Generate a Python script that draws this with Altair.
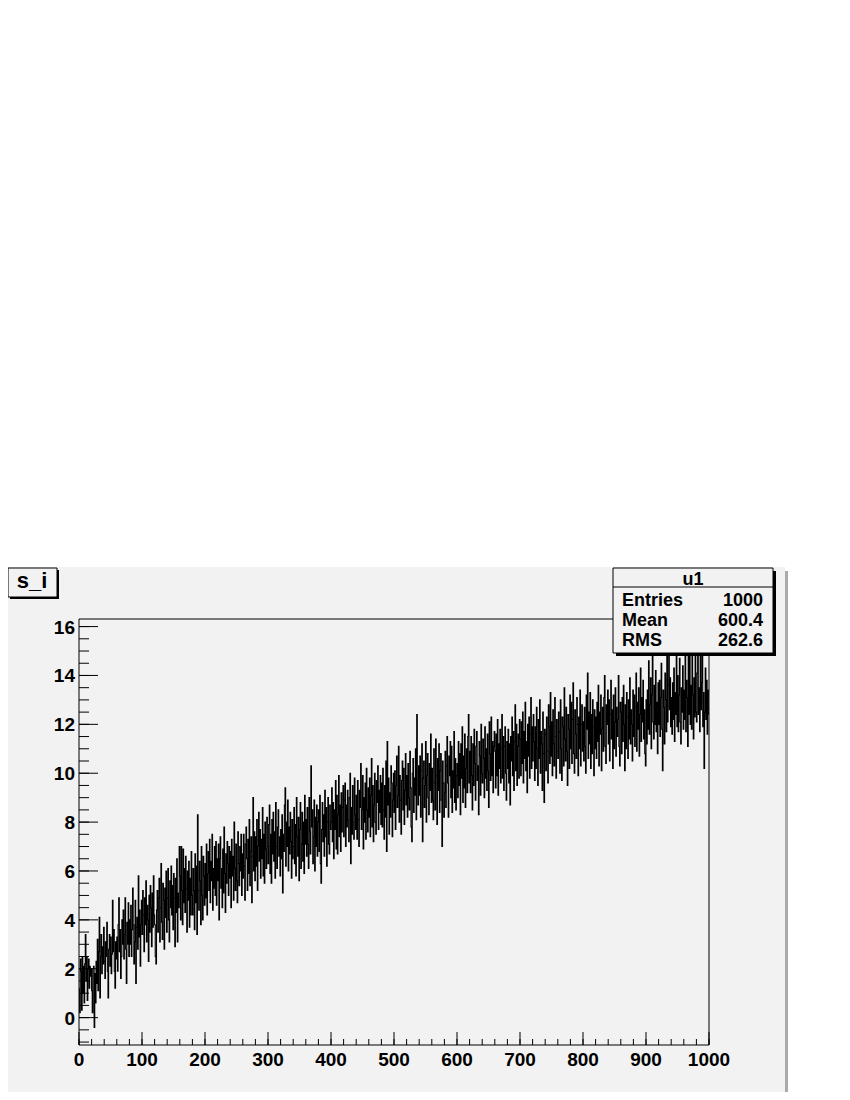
import altair as alt
import pandas as pd

# ---- data: bin contents of histogram "u1" (1000 bins, 0..1000) ----
s_i = [
    1.2, 0.2, 2.4, 1.9, 0.3, 2.5, 1.0, 2.1, 0.6, 2.2, 3.4, 1.5, 2.5, 0.7, 2.0, 2.4, 1.2, 2.1, 1.7, 2.0,
    1.1, 0.2, 2.0, 2.1, -0.4, 1.8, 0.6, 2.3, 1.4, 3.2, 1.1, 2.7, 4.1, 0.8, 2.5, 3.4, 1.8, 2.9, 2.2, 3.7,
    2.3, 1.6, 3.1, 2.5, 3.9, 1.9, 0.8, 2.8, 3.4, 2.1, 3.3, 1.8, 2.6, 4.8, 2.7, 3.6, 1.9, 1.2, 3.1, 2.4,
    3.3, 1.9, 3.8, 4.9, 2.7, 3.6, 1.6, 2.5, 4.0, 3.0, 4.4, 2.4, 3.4, 4.9, 2.8, 1.4, 3.9, 3.0, 4.7, 2.5,
    4.0, 3.0, 4.6, 2.5, 3.6, 5.3, 3.8, 2.2, 3.1, 4.8, 1.4, 3.7, 4.1, 2.8, 5.8, 3.3, 4.4, 2.1, 3.8, 4.8,
    3.4, 5.2, 4.2, 2.7, 4.9, 3.8, 5.6, 3.1, 4.6, 4.0, 2.3, 5.0, 3.5, 5.4, 4.5, 2.9, 5.1, 3.7, 5.8, 4.2,
    3.8, 2.5, 2.2, 4.4, 5.2, 3.5, 4.9, 5.7, 3.1, 4.5, 6.3, 3.9, 3.2, 5.5, 4.8, 2.8, 5.3, 4.1, 6.0, 3.5,
    4.9, 6.1, 4.0, 3.1, 5.6, 4.5, 6.2, 4.2, 5.4, 3.6, 5.9, 4.9, 2.9, 5.7, 4.3, 6.5, 3.1, 5.1, 4.5, 7.0,
    5.8, 4.0, 7.0, 5.2, 3.8, 6.9, 4.7, 6.1, 4.3, 6.6, 5.3, 3.5, 6.0, 4.8, 6.4, 3.7, 5.7, 4.2, 6.8, 5.0,
    4.2, 6.1, 5.2, 3.6, 6.7, 4.7, 6.2, 3.4, 8.3, 5.2, 4.4, 6.4, 5.6, 3.8, 7.0, 5.0, 4.0, 6.6, 5.8, 4.6,
    6.3, 4.9, 7.1, 4.2, 5.9, 6.8, 5.2, 7.3, 4.7, 6.4, 5.6, 7.5, 4.4, 6.1, 5.3, 7.0, 5.0, 7.2, 4.6, 6.5,
    5.6, 7.1, 4.0, 6.5, 7.4, 5.3, 6.1, 4.5, 6.9, 5.1, 7.8, 5.9, 4.3, 6.7, 5.5, 7.2, 6.3, 5.0, 7.0, 5.7,
    6.8, 4.5, 7.3, 5.8, 6.6, 4.8, 8.0, 6.1, 5.2, 7.1, 5.6, 4.7, 7.6, 6.3, 5.4, 7.0, 6.0, 7.5, 5.0, 6.7,
    5.7, 7.5, 6.2, 4.8, 7.1, 7.8, 6.5, 5.2, 7.3, 5.9, 8.1, 5.4, 6.8, 7.4, 4.7, 6.6, 9.0, 6.0, 7.6, 5.6,
    7.4, 6.2, 8.1, 5.2, 7.0, 8.4, 6.4, 7.7, 5.7, 7.3, 6.5, 8.6, 5.8, 7.5, 5.5, 8.0, 6.9, 6.1, 8.2, 7.0,
    6.3, 7.9, 8.7, 5.9, 7.5, 5.5, 8.1, 6.7, 8.4, 6.4, 7.6, 5.7, 8.8, 7.0, 6.1, 7.8, 8.5, 6.6, 7.4, 5.8,
    7.7, 6.5, 8.3, 5.1, 7.5, 6.8, 8.7, 9.4, 6.2, 8.0, 7.0, 8.9, 6.0, 7.8, 6.7, 8.4, 7.2, 5.7, 8.1, 6.5,
    7.0, 8.6, 6.3, 7.9, 5.8, 9.0, 7.4, 6.6, 8.2, 5.6, 7.7, 8.8, 6.1, 7.1, 8.4, 6.4, 8.0, 5.9, 9.1, 7.1,
    8.1, 6.6, 8.6, 7.1, 6.1, 9.0, 7.6, 6.7, 10.3, 7.8, 8.5, 6.3, 7.4, 8.9, 6.0, 8.2, 7.0, 8.7, 6.6, 8.0,
    8.5, 6.8, 9.1, 6.3, 5.5, 7.7, 8.8, 7.2, 8.3, 6.6, 9.3, 7.4, 8.6, 6.2, 8.0, 9.0, 7.1, 6.7, 8.7, 7.7,
    8.0, 9.4, 7.2, 8.8, 6.5, 8.5, 7.7, 9.7, 6.9, 9.1, 6.7, 8.3, 9.9, 7.4, 8.7, 6.8, 9.2, 7.6, 8.6, 9.5,
    7.4, 8.9, 9.6, 7.0, 8.7, 7.8, 9.3, 8.1, 7.2, 9.0, 10.0, 6.3, 8.6, 7.5, 9.5, 8.0, 7.3, 9.8, 8.3, 7.7,
    9.1, 7.3, 9.7, 8.1, 7.0, 9.3, 8.6, 10.4, 7.7, 8.5, 9.9, 6.9, 9.0, 8.0, 9.6, 7.3, 10.2, 8.5, 7.6, 9.4,
    8.2, 9.8, 7.4, 9.1, 10.6, 7.8, 9.5, 7.2, 8.7, 10.0, 8.0, 7.5, 9.7, 8.8, 10.3, 7.7, 9.3, 8.4, 9.9, 7.9,
    9.6, 7.8, 10.2, 8.5, 7.3, 9.5, 8.2, 10.5, 6.8, 11.3, 8.7, 9.8, 7.5, 9.2, 8.2, 10.3, 9.6, 7.4, 8.9, 10.0,
    8.4, 10.1, 7.7, 9.5, 10.7, 8.6, 9.1, 11.1, 8.0, 9.9, 8.9, 7.5, 9.7, 10.5, 8.5, 10.2, 7.9, 9.3, 10.8, 8.7,
    9.9, 8.2, 10.4, 9.0, 8.5, 10.9, 9.4, 7.8, 7.2, 10.0, 10.6, 8.4, 9.8, 9.1, 11.0, 8.1, 12.4, 9.5, 8.7, 10.3,
    9.1, 10.7, 8.2, 10.1, 11.2, 7.2, 9.8, 10.5, 8.6, 9.5, 11.3, 8.0, 9.9, 10.8, 9.0, 8.3, 10.4, 9.3, 11.6, 8.8,
    10.2, 8.9, 8.1, 11.0, 9.6, 8.5, 11.4, 9.9, 7.9, 10.6, 9.3, 11.2, 8.4, 10.1, 10.8, 8.9, 7.0, 10.5, 9.6, 8.2,
    9.2, 10.9, 8.6, 10.3, 11.5, 9.6, 8.2, 10.7, 9.9, 11.3, 9.0, 11.1, 8.4, 10.1, 9.4, 11.7, 8.8, 10.6, 8.5, 9.9,
    10.4, 9.0, 11.3, 9.5, 10.8, 8.3, 11.2, 9.8, 11.9, 8.8, 10.7, 9.4, 11.6, 8.6, 10.2, 11.0, 9.2, 11.5, 12.4, 9.6,
    10.9, 9.2, 11.5, 9.9, 8.5, 11.2, 9.5, 11.8, 10.4, 8.9, 11.1, 11.7, 9.7, 10.3, 8.3, 11.3, 10.7, 9.1, 12.0, 10.0,
    9.6, 11.4, 10.6, 9.0, 11.9, 9.8, 11.0, 9.3, 11.6, 10.1, 8.6, 12.1, 10.8, 9.7, 12.3, 9.9, 11.3, 9.2, 11.1, 11.7,
    10.9, 9.4, 11.6, 9.9, 12.2, 9.1, 11.2, 10.2, 11.8, 9.6, 11.0, 12.4, 9.8, 11.5, 9.3, 11.1, 11.9, 10.0, 8.9, 11.3,
    10.2, 11.8, 9.6, 11.2, 8.7, 11.5, 10.5, 12.3, 9.9, 11.7, 9.3, 11.3, 12.8, 10.1, 12.0, 9.5, 11.1, 11.6, 9.8, 12.2,
    11.4, 9.9, 12.1, 10.4, 12.5, 9.6, 11.7, 10.6, 12.9, 10.1, 11.3, 9.2, 12.0, 10.7, 12.3, 9.8, 11.6, 13.1, 10.2, 11.9,
    10.5, 12.4, 11.3, 9.7, 11.9, 10.2, 12.7, 11.0, 9.5, 12.2, 10.6, 13.0, 10.0, 11.7, 11.2, 9.3, 12.5, 10.8, 8.8, 11.8,
    11.6, 10.1, 12.3, 10.9, 9.6, 12.8, 11.9, 10.4, 13.3, 10.7, 12.1, 9.9, 12.6, 11.2, 10.3, 13.1, 11.5, 9.8, 12.2, 10.9,
    10.6, 12.5, 11.7, 10.0, 13.0, 11.0, 9.7, 12.3, 11.9, 10.3, 13.5, 11.4, 10.5, 12.7, 10.9, 9.5, 12.4, 11.8, 10.2, 13.2,
    11.0, 12.9, 10.4, 12.2, 13.7, 10.8, 10.0, 12.6, 11.6, 10.6, 13.1, 12.0, 9.9, 12.3, 11.0, 13.4, 10.3, 12.0, 12.8, 10.9,
    12.1, 10.5, 12.7, 11.1, 10.0, 13.2, 11.8, 14.1, 10.6, 12.5, 11.2, 13.3, 10.2, 12.4, 10.8, 13.0, 11.9, 9.9, 12.6, 11.0,
    12.3, 10.6, 12.9, 11.3, 13.6, 10.3, 12.5, 11.6, 13.2, 10.1, 11.8, 12.7, 10.9, 13.1, 14.0, 11.1, 10.4, 12.8, 12.0, 13.4,
    11.2, 13.0, 10.5, 12.4, 13.8, 11.4, 12.6, 10.2, 13.2, 11.0, 12.1, 13.5, 10.7, 12.7, 11.5, 12.2, 14.0, 11.1, 10.3, 12.9,
    12.5, 10.8, 13.1, 11.3, 13.6, 12.0, 10.1, 12.8, 11.0, 13.3, 12.3, 10.6, 13.0, 11.4, 13.9, 11.2, 12.6, 12.0, 10.5, 13.4,
    11.5, 13.2, 11.1, 12.7, 14.1, 10.9, 12.9, 11.8, 13.5, 10.7, 12.4, 14.3, 11.3, 13.1, 12.1, 13.8, 11.4, 12.6, 10.8, 10.3,
    13.0, 11.2, 13.4, 11.8, 14.6, 11.6, 12.8, 13.9, 11.0, 13.2, 15.4, 12.1, 11.4, 13.6, 12.0, 14.2, 11.7, 12.9, 10.8, 13.7,
    12.0, 13.8, 11.5, 13.1, 14.5, 11.8, 10.1, 13.4, 12.7, 11.2, 14.1, 13.0, 11.7, 14.9, 12.1, 13.6, 15.0, 12.6, 13.9, 11.9,
    13.1, 11.6, 13.7, 12.2, 14.3, 11.3, 13.3, 12.4, 15.6, 11.9, 14.0, 11.7, 13.2, 14.7, 12.1, 11.2, 13.5, 12.5, 14.4, 11.8,
    13.4, 12.2, 15.2, 11.7, 13.8, 13.1, 11.1, 15.3, 12.4, 14.8, 12.0, 13.6, 11.8, 15.8, 13.2, 11.4, 13.9, 12.3, 15.1, 12.5,
    12.1, 14.1, 15.5, 12.4, 13.5, 11.7, 15.6, 12.6, 13.7, 15.9, 11.9, 13.3, 10.2, 12.5, 14.3, 12.2, 13.8, 11.6, 13.4, 12.4,
]

x_label_values = [0, 100, 200, 300, 400, 500, 600, 700, 800, 900, 1000]
y_label_values = [0, 2, 4, 6, 8, 10, 12, 14, 16]
x_major_ticks = list(range(0, 1001, 100))
x_minor_ticks = list(range(0, 1001, 20))
y_major_ticks = [0, 2, 4, 6, 8, 10, 12, 14, 16]
y_minor_ticks = [v / 2 for v in range(-2, 33)]

title_text = "s_i"
hist_name = "u1"
stats_labels = ["Entries", "Mean", "RMS"]
stats_values = ["1000", "600.4", "262.6"]

# ---- layout ----
W, H = 630, 426
X_DOMAIN = [0, 1000]
Y_DOMAIN = [-1.12, 16.31]
FONT = "Liberation Sans"
PANEL = "#f2f2f2"

xs = alt.Scale(domain=X_DOMAIN, nice=False, zero=False)
ys = alt.Scale(domain=Y_DOMAIN, nice=False, zero=False)
one = alt.Data(values=[{}])

df = pd.DataFrame({"x": [i + 0.5 for i in range(len(s_i))], "s": s_i})


def box(x, x2, y, y2, **kw):
    return alt.Chart(one).mark_rect(**kw).encode(
        x=alt.value(x), x2=alt.value(x2), y=alt.value(y), y2=alt.value(y2)
    )


def label(txt, x, y, align="left", size=18):
    return alt.Chart(one).mark_text(
        text=txt, align=align, baseline="alphabetic", font=FONT,
        fontWeight="bold", fontSize=size, color="black"
    ).encode(x=alt.value(x), y=alt.value(y))


# canvas panel and its shadow
panel = box(-71, 706, -52, 473, fill=PANEL)
panel_shadow = box(706, 709, -48, 473, fill="#aaaaaa")

hist = alt.Chart(df).mark_line(
    interpolate="step", color="black", strokeWidth=1.1, clip=True
).encode(
    x=alt.X("x:Q", scale=xs, axis=None),
    y=alt.Y("s:Q", scale=ys, axis=None),
)


def xticks(vals, size):
    return alt.Chart(pd.DataFrame({"t": vals})).mark_rule(color="black", strokeWidth=1).encode(
        x=alt.X("t:Q", scale=xs, axis=None), y=alt.value(H), y2=alt.value(H - size))


def yticks(vals, size):
    return alt.Chart(pd.DataFrame({"t": vals})).mark_rule(color="black", strokeWidth=1).encode(
        y=alt.Y("t:Q", scale=ys, axis=None), x=alt.value(0), x2=alt.value(size))


x_labels = alt.Chart(pd.DataFrame({"v": x_label_values})).mark_text(
    align="center", baseline="alphabetic", font=FONT, fontWeight="bold",
    fontSize=19, color="black"
).encode(x=alt.X("v:Q", scale=xs, axis=None), y=alt.value(H + 21),
         text=alt.Text("v:Q", format="d"))

y_labels = alt.Chart(pd.DataFrame({"v": y_label_values})).mark_text(
    align="right", baseline="alphabetic", font=FONT, fontWeight="bold",
    fontSize=19, color="black", dy=7
).encode(y=alt.Y("v:Q", scale=ys, axis=None), x=alt.value(-4),
         text=alt.Text("v:Q", format="d"))

frame = box(0, W, 0, H, fillOpacity=0, stroke="black", strokeWidth=1)

# title box
title_shadow = box(-69, -20, -49, -20, fill="black")
title_box = box(-71, -22, -51, -22, fill=PANEL, stroke="black", strokeWidth=1)
title_lbl = label(title_text, -47, -31, align="center", size=22)

# stats box
st_shadow = box(537, 697, -48, 37, fill="black")
st_box = box(534, 694, -51, 34, fill=PANEL, stroke="black", strokeWidth=1)
st_div = alt.Chart(one).mark_rule(color="black", strokeWidth=1).encode(
    x=alt.value(534), x2=alt.value(694), y=alt.value(-32))
st_name = label(hist_name, 614, -34, align="center")
st_rows = []
for k, (lab, val) in enumerate(zip(stats_labels, stats_values)):
    st_rows.append(label(lab, 543, -13 + 20 * k, align="left"))
    st_rows.append(label(val, 684, -13 + 20 * k, align="right"))

chart = alt.layer(
    panel, panel_shadow, hist,
    xticks(x_major_ticks, 13), xticks(x_minor_ticks, 6),
    yticks(y_major_ticks, 19), yticks(y_minor_ticks, 10),
    x_labels, y_labels,
    frame, title_shadow, title_box, title_lbl,
    st_shadow, st_box, st_div, st_name, *st_rows,
).properties(
    width=W, height=H,
    padding={"left": 71, "top": 611, "right": 79, "bottom": 47},
    autosize=alt.AutoSizeParams(type="none"),
).configure(background="white").configure_view(stroke="transparent")

chart.save("out.html", embed_options={"renderer": "svg", "actions": False})
